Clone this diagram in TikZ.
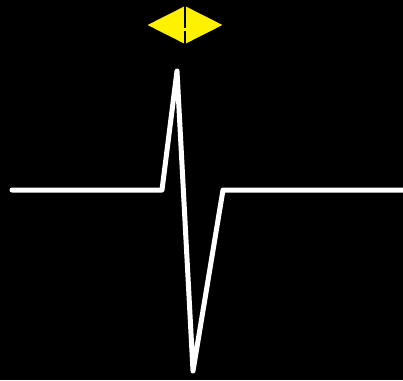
\documentclass[tikz,border=0pt]{standalone}
\usetikzlibrary{shapes.geometric}

\begin{document}
\begin{tikzpicture}[
    x=1pt, y=-1pt,
    trace/.style={draw=white, line width=5pt, line join=round, line cap=round},
    marker/.style={diamond, fill=yellow, draw=none, inner sep=0pt,
                   minimum width=75pt, minimum height=38pt},
    split/.style={draw=black, line width=2.4pt},
]
% background and size
\fill[black] (0,0) rectangle (403,380);
\useasboundingbox (0,0) rectangle (403,380);

% waveform points
\coordinate (w0) at (12,190);
\coordinate (w1) at (162,190);
\coordinate (peak) at (177,71);
\coordinate (trough) at (193,371);
\coordinate (w4) at (223,190);
\coordinate (w5) at (410,190);

\draw[trace] (w0) -- (w1) -- (peak) -- (trough) -- (w4) -- (w5);

% marker above the peak
\node[marker] (mk) at (185,25) {};
\coordinate (cut1) at (185,28);
\coordinate (cut2) at (185,31);
\draw[split] (mk.north) -- (cut1);
\draw[split] (cut2) -- (mk.south);

\end{tikzpicture}
\end{document}
